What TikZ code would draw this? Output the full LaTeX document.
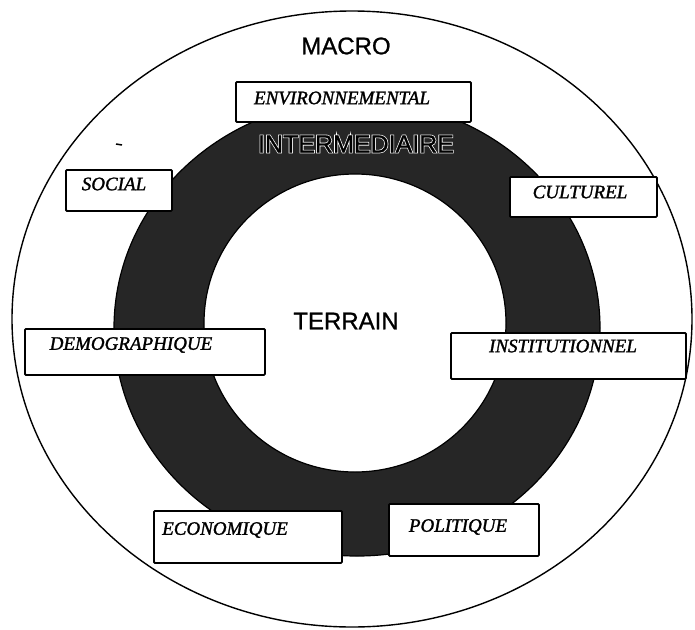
\documentclass[tikz,border=0pt]{standalone}
\usepackage{fontspec}
\setmainfont{Liberation Serif}
\newfontfamily\labfont[FakeBold=1.5]{Liberation Serif}
\newfontfamily\arialfont[FakeBold=1]{Liberation Sans}
\newfontfamily\interwhite[FakeBold=7]{Liberation Sans}
\newfontfamily\interblack[FakeBold=1]{Liberation Sans}
\begin{document}
\begin{tikzpicture}[x=1pt,y=-1pt,
  boxstyle/.style={draw=black, fill=white, line width=1.8pt, rounded corners=1pt, inner sep=0pt},
  lab/.style={font=\labfont\itshape\fontsize{19}{22}\selectfont, inner sep=0pt},
  bigsans/.style={font=\arialfont\fontsize{24}{28}\selectfont, inner sep=0pt},
  ringfill/.style={fill=black!85}
]
\useasboundingbox (0,0) rectangle (695,629);
% outer ellipse (MACRO)
\draw[line width=1.4pt, fill=white] (352,319) ellipse [x radius=340pt, y radius=308pt];
% dark ring (INTERMEDIAIRE)
\fill[ringfill, even odd rule] (357,328) ellipse [x radius=243pt, y radius=228pt]
   (355,323) ellipse [x radius=151pt, y radius=149pt];
\draw[line width=1.2pt] (357,328) ellipse [x radius=243pt, y radius=228pt];
\draw[line width=1.2pt] (355,323) ellipse [x radius=151pt, y radius=149pt];
% boxes
\node[boxstyle, anchor=north west, minimum width=235pt, minimum height=40pt] (envbox) at (235,81) {};
\node[boxstyle, anchor=north west, minimum width=106pt, minimum height=41pt] (socbox) at (65,169) {};
\node[boxstyle, anchor=north west, minimum width=147pt, minimum height=40pt] (culbox) at (509,176) {};
\node[boxstyle, anchor=north west, minimum width=240pt, minimum height=46pt] (dembox) at (24,328) {};
\node[boxstyle, anchor=north west, minimum width=235pt, minimum height=46pt] (insbox) at (450,332) {};
\node[boxstyle, anchor=north west, minimum width=188pt, minimum height=52pt] (ecobox) at (153,510) {};
\node[boxstyle, anchor=north west, minimum width=150pt, minimum height=52pt] (polbox) at (388,503) {};
% labels
\node[lab] (envlab) at (342,98) {ENVIRONNEMENTAL};
\node[lab] (soclab) at (114,184) {SOCIAL};
\node[lab] (cullab) at (580,192) {CULTUREL};
\node[lab] (demlab) at (131,345) {DEMOGRAPHIQUE};
\node[lab] (inslab) at (563,346) {INSTITUTIONNEL};
\node[lab] (ecolab) at (225,530) {ECONOMIQUE};
\node[lab] (pollab) at (458,527) {POLITIQUE};
% level names
\node[bigsans] (macro) at (346,46) {MACRO};
\node[bigsans] (terrain) at (346,321) {TERRAIN};
\node[font=\interwhite\fontsize{25}{28}\selectfont, inner sep=0pt, text=white] (interhalo) at (356,144) {INTERMEDIAIRE};
\node[font=\interblack\fontsize{25}{28}\selectfont, inner sep=0pt, text=black] (inter) at (356,144) {INTERMEDIAIRE};
% stray mark
\draw[line width=1.5pt] (116,144) -- (122,145);
\end{tikzpicture}
\end{document}
